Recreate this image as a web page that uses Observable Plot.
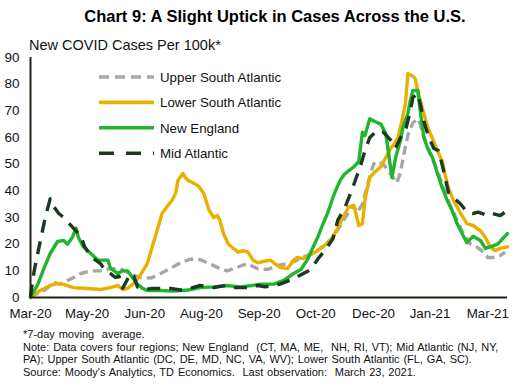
<!DOCTYPE html>
<html><head><meta charset="utf-8">
<script src="https://cdn.jsdelivr.net/npm/d3@7"></script>
<script src="https://cdn.jsdelivr.net/npm/@observablehq/plot@0.6"></script>
<style>
body{margin:0;background:#fff;font-family:"Liberation Sans",Arial,sans-serif;color:#000;}
#wrap{position:relative;width:519px;height:386px;overflow:hidden;background:#fff;}
#title{position:absolute;left:0;top:8px;width:519px;box-sizing:border-box;padding-left:31px;text-align:center;font-weight:bold;font-size:16.5px;line-height:16.5px;white-space:nowrap;}
#chart{position:absolute;left:0;top:30px;}
#notes{position:absolute;left:23px;top:328px;width:490px;font-size:11px;line-height:12.7px;color:#111;white-space:nowrap;word-spacing:0.8px;}
</style></head>
<body><div id="wrap">
<div id="title">Chart 9: A Slight Uptick in Cases Across the U.S.</div>
<div id="chart"></div>
<div id="notes">
<div>*7-day moving&nbsp; average.</div>
<div>Note: Data covers four regions; New England&nbsp; (CT, MA, ME,&nbsp; NH, RI, VT); Mid Atlantic (NJ, NY,</div>
<div>PA); Upper South Atlantic (DC, DE, MD, NC, VA, WV); Lower South Atlantic (FL, GA, SC).</div>
<div>Source: Moody's Analytics, TD Economics.&nbsp; Last observation:&nbsp; March 23, 2021.</div>
</div>
</div>
<script>
// x = days since 1 Mar 2020 (last observation 23 Mar 2021)
const tickDays = [0, 46, 93, 139, 186, 232, 279, 325, 372];
const tickLabels = ["Mar-20", "May-20", "Jun-20", "Aug-20", "Sep-20", "Oct-20", "Dec-20", "Jan-21", "Mar-21"];
const yTicks = [0, 10, 20, 30, 40, 50, 60, 70, 80, 90];
const seriesNames = ["Upper South Atlantic", "Lower South Atlantic", "New England", "Mid Atlantic"];

const upperSouthDays = [0,2,11,19,24,33,41,49,57,65,73,81,89,98,106,114,122,130,138,144,152,160,168,176,185,193,201,209,217,225,233,241,246,252,258,262,266,270,274,279,282,287,291,295,298,301,303,307,311,315,317,320,325,331,336,341,347,352,358,363,367,372,376,382,386];
const upperSouthVals = [0,0.7,2.6,5.6,5,7,9,10,10,10.8,10.8,9,7.5,7.3,9,11,13,14.4,14.2,13,11.3,10,11.3,12.7,10.8,10.5,12,12.7,14,15.7,17.3,20.5,22.5,27,31.5,34.5,32,35,42,50,51,50,47.6,45,43,47,52,61,65.5,67,65,60,54,47.6,41,35,29,24,20,19,17.6,15,15,15.7,17];

const lowerSouthDays = [0,4,8,16,22,27,35,46,57,65,71,75,79,84,89,95,99,103,107,111,115,118,120,124,126,128,132,136,138,141,145,149,152,154,157,161,165,169,173,177,181,185,189,195,203,209,214,217,222,228,233,238,244,250,254,259,263,266,267,270,272,274,276,280,285,289,293,295,299,302,305,307,311,313,315,317,320,323,327,331,335,337,340,344,350,355,360,366,370,374,378,382,388];
const lowerSouthVals = [0,1.5,2.6,4.5,5.3,4.9,3.7,3.4,3,3.7,4.5,3,3.4,5.3,8.2,12.7,19,25,31.5,34,36.4,39,44,46.5,45,44,43,42,41,39,33,30,30.7,29,24,20,18.4,17,17.6,17,14,13,13.5,14,11.3,10.8,14,15,14.6,16,17.5,19,21.4,26,30,34,34.5,29,27,27.7,36.4,41,45,47,49,52.5,56,57,60,66,72.7,84,83,82,77.6,74,69,64,59.6,55,51,46.5,41,36.4,31.5,27.7,27,25,22.5,19,17.6,18.4,19];

const newEnglandDays = [0,6,11,16,22,27,30,34,37,39,43,49,55,59,63,65,71,75,79,83,87,91,95,106,116,128,138,149,159,171,180,187,198,206,214,220,225,230,234,238,242,246,249,252,255,259,263,267,270,272,276,280,285,289,291,294,297,301,303,307,309,311,315,317,320,323,327,331,335,339,343,347,351,355,360,366,370,374,380,385,388];
const newEnglandVals = [0,5,11,16.5,21,21.4,20,22.5,26,22.5,19,16.5,14,14,14,11,9,10,10,7.5,5,3.5,2.6,2.6,2.4,2.8,3.7,4,4.5,4,4.5,5,5,6.4,9,10.5,14,19,23,27.7,32,37.5,41,44,46,47.6,49,51,62,60.7,67,66,65,61.5,55,45,52.5,59,64,69,74,77.6,77.6,70,60,56,52.5,46.5,41,36.4,32.6,27.7,24,20.6,23,21.4,18.4,19,20,22.5,24];

const midAtlanticDays = [0,1,3,7,12,16,19,23,27,31,37,41,44,50,57,61,65,69,72,75,78,81,84,87,93,99,106,114,122,130,138,149,159,165,176,185,191,197,203,214,220,228,234,240,246,250,256,262,265,268,272,276,282,287,293,297,301,305,309,311,315,317,320,324,328,332,336,340,344,350,355,360,364,372,376,382,386];
const midAtlanticVals = [0,4,10,19,30,37,34,31.5,30,28,25,23,19,15,12.7,10,9,7.5,8,3.5,6,9,8,4,3,3.4,3.4,3.4,2.8,3.5,4.5,3.7,4.5,3.7,3.7,4.5,4,4.5,5,7,8.5,10.5,14.6,18,22,29,34,41,45,48.7,55,60,62.6,62,59,56,60,62.6,70,75,76.5,72.7,66,60,56,55,47.6,39.4,37.5,35,32,31.5,32,30.7,31.5,30.7,32];

const colors = ["#A6A6A6", "#E9B000", "#1FB52E", "#1B3A21"];
const dashes = ["9,5", null, null, "13,9"];

const toRows = (days, vals) => days.map((d, i) => ({day: d, v: vals[i]}));
const seriesRows = [
  toRows(upperSouthDays, upperSouthVals),
  toRows(lowerSouthDays, lowerSouthVals),
  toRows(newEnglandDays, newEnglandVals),
  toRows(midAtlanticDays, midAtlanticVals)
];
const labelMap = new Map(tickDays.map((d, i) => [d, tickLabels[i]]));
const axisColor = "#1d2412";

const lineMarks = seriesRows.map((rows, i) => Plot.line(rows, {
  x: "day", y: "v", stroke: colors[i], strokeWidth: 3.4,
  strokeDasharray: dashes[i] || undefined,
  strokeLinecap: dashes[i] ? "butt" : "round", strokeLinejoin: "round"
}));

const chart = Plot.plot({
  width: 519, height: 300,
  marginTop: 27, marginBottom: 33, marginLeft: 30, marginRight: 12,
  x: {domain: [0, 388], label: null},
  y: {domain: [0, 90], label: null},
  style: {fontFamily: "'Liberation Sans', Arial, sans-serif", fontSize: "13.3px", color: "#111", background: "white"},
  marks: [
    Plot.axisY({ticks: yTicks, tickSize: 0, tickPadding: 11, fontSize: 13.5}),
    Plot.axisX({ticks: tickDays, tickSize: 0, tickPadding: 11, fontSize: 13.3, tickFormat: d => labelMap.get(d)}),
    ...lineMarks,
    Plot.ruleX([0], {stroke: axisColor, strokeWidth: 2}),
    Plot.ruleY([0], {stroke: axisColor, strokeWidth: 2})
  ]
});

const svg = d3.select(chart);
svg.append("text").attr("x", 29).attr("y", 20)
  .attr("text-anchor", "start")
  .attr("font-size", "14.5px").attr("fill", "#111")
  .attr("font-family", "'Liberation Sans', Arial, sans-serif")
  .text("New COVID Cases Per 100k*");
const lg = svg.append("g").attr("text-anchor", "start");
seriesNames.forEach((name, i) => {
  const y = 47 + i * 25.4;
  const ln = lg.append("line").attr("x1", 99).attr("x2", 154).attr("y1", y).attr("y2", y)
    .attr("stroke", colors[i]).attr("stroke-width", 3.6);
  if (dashes[i]) ln.attr("stroke-dasharray", i === 3 ? "15,12" : "10,6");
  lg.append("text").attr("x", 160).attr("y", y).attr("dy", "0.36em")
    .attr("text-anchor", "start")
    .attr("font-size", "13.3px").attr("fill", "#111")
    .attr("font-family", "'Liberation Sans', Arial, sans-serif")
    .text(name);
});
document.getElementById("chart").appendChild(chart);
</script>
</body></html>
